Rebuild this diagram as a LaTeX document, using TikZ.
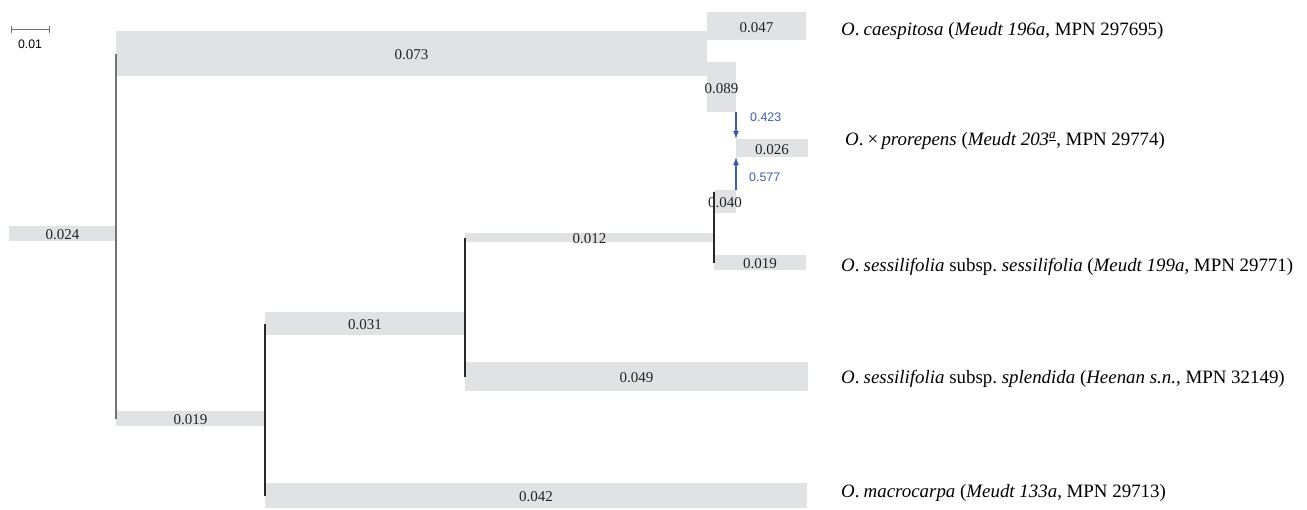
\documentclass[tikz,border=0pt]{standalone}
\usepackage{fontspec}
\setmainfont{Liberation Serif}
\setsansfont{Liberation Sans}
\usetikzlibrary{arrows.meta}
\definecolor{bargrey}{RGB}{225,226,228}
\definecolor{hybblue}{RGB}{62,92,170}
\definecolor{linedark}{RGB}{40,40,40}
\definecolor{linemid}{RGB}{115,115,115}
\definecolor{labgrey}{RGB}{35,35,35}
\newcommand\brnode[6]{%
  \node[brbar, minimum width={#4-#2}, minimum height={#5-#3}] (#1) at ({(#2+#4)/2},{(#3+#5)/2}) {};
  \node[brlab] (#1-lab) at ([yshift=-1.5pt]#1.center) {#6};}
\newcommand\Og{\textit{O}.\hspace{0.22em}}
\begin{document}
\begin{tikzpicture}[x=1pt,y=-1pt,
  brbar/.style={fill=bargrey, draw=none, inner sep=0pt, outer sep=0pt},
  brlab/.style={inner sep=0pt, font=\fontsize{15}{15}\selectfont, text=labgrey},
  taxon/.style={anchor=base west, inner sep=0pt, font=\fontsize{18.9}{18.9}\selectfont},
  branch/.style={line width=1.1pt, draw=linedark},
  hyb/.style={line width=1.1pt, draw=hybblue, -{Latex[length=8pt,width=6pt]}},
  hyblabel/.style={anchor=west, font=\sffamily\fontsize{12.4}{12.4}\selectfont, text=hybblue, inner sep=0pt},
]
\useasboundingbox (0,0) rectangle (1307,509);

% branch bars
\brnode{b024}{9}{226}{116}{241}{0.024}
\brnode{b073}{116}{31}{707}{76}{0.073}
\brnode{b047}{707}{12}{806}{40}{0.047}
\brnode{b089}{707}{62}{736}{112}{0.089}
\brnode{b026}{736}{139}{808}{157}{0.026}
\brnode{b040}{714}{190}{736}{213}{0.040}
\brnode{b012}{465}{233}{714}{242}{0.012}
\brnode{b019b}{714}{255}{806}{270}{0.019}
\brnode{b031}{265}{312}{465}{335}{0.031}
\brnode{b049}{465}{362}{808}{391}{0.049}
\brnode{b019a}{116}{411}{265}{426}{0.019}
\brnode{b042}{265}{483}{807}{508}{0.042}

% vertical connectors
\draw[branch, draw=linemid] (b073.west) -- (b019a.west);
\draw[branch] (b031.west) -- (b042.west);
\draw[branch] (b012.west) -- (b049.west);
\draw[branch] ([yshift=-2pt]b040.north west) -- (b019b.west);

% hybrid arrows
\draw[hyb] (b089.south east) -- (b026.north west);
\draw[hyb] (b040.north east) -- (b026.south west);
\node[hyblabel] (h1) at (750,117) {0.423};
\node[hyblabel] (h2) at (749,177) {0.577};

% scale bar
\coordinate (sbL) at (11,29);
\coordinate (sbR) at (50,29);
\draw[line width=1pt, draw=linemid, {Bar[width=7pt]}-{Bar[width=7pt]}] (sbL) -- (sbR);
\node[font=\sffamily\fontsize{12.3}{12.3}\selectfont, inner sep=0pt] (sblab) at (30,44) {0.01};

% taxa
\node[taxon] (t1) at (841,35) {\Og\textit{caespitosa} (\textit{Meudt 196a}, MPN 297695)};
\node[taxon] (t2) at (845,145) {\Og×\,\textit{prorepens} (\textit{Meudt 203}\textsuperscript{\underline{\textit{a}}}, MPN 29774)};
\node[taxon] (t3) at (841,271) {\Og\textit{sessilifolia} subsp.\ \textit{sessilifolia} (\textit{Meudt 199a}, MPN 29771)};
\node[taxon] (t4) at (841,383) {\Og\textit{sessilifolia} subsp.\ \textit{splendida} (\textit{Heenan s.n.}, MPN 32149)};
\node[taxon] (t5) at (841,497) {\Og\textit{macrocarpa} (\textit{Meudt 133a}, MPN 29713)};
\end{tikzpicture}
\end{document}
